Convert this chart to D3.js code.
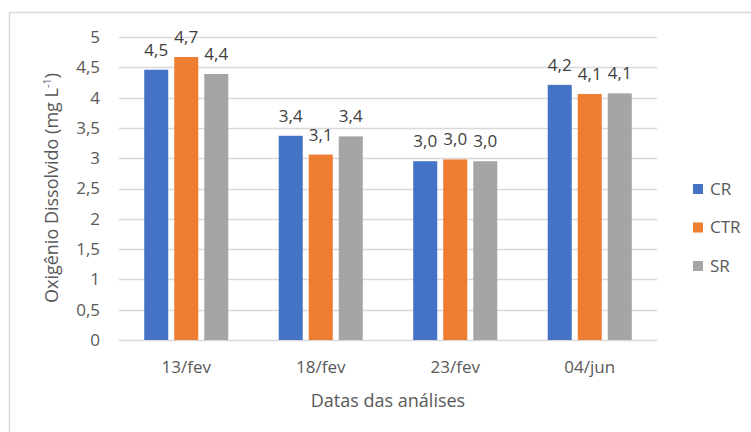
<!DOCTYPE html>
<html>
<head>
<meta charset="utf-8">
<script src="https://cdn.jsdelivr.net/npm/d3@7"></script>
<style>
  html, body { margin: 0; padding: 0; background: #fff; }
  svg { display: block; font-family: "Open Sans", "Noto Sans", sans-serif; }
</style>
</head>
<body>
<svg id="chart" width="751" height="432"></svg>
<script>
// Dissolved oxygen per analysis date and treatment
const dates = ["13/fev", "18/fev", "23/fev", "04/jun"];
const seriesNames = ["CR", "CTR", "SR"];
const crValues = [4.46, 3.37, 2.95, 4.21];
const ctrValues = [4.67, 3.06, 2.98, 4.06];
const srValues = [4.39, 3.36, 2.95, 4.07];
const yTicks = [0, 0.5, 1, 1.5, 2, 2.5, 3, 3.5, 4, 4.5, 5];
const colors = ["#4472C4", "#ED7D31", "#A5A5A5"];

const seriesValues = [crValues, ctrValues, srValues];
const rows = dates.map((d, i) => ({
  date: d,
  values: seriesNames.map((s, j) => ({ key: s, value: seriesValues[j][i], color: colors[j] }))
}));

const svg = d3.select("#chart");
const plot = { left: 119, right: 657, top: 37, bottom: 340 };

// outer frame
svg.append("rect")
  .attr("x", 9.5).attr("y", 12.5)
  .attr("width", 760).attr("height", 440)
  .attr("fill", "none").attr("stroke", "#d9d9d9").attr("stroke-width", 1.5);

const x0 = d3.scaleBand().domain(dates).range([plot.left, plot.right]).paddingInner(0.375).paddingOuter(0.1875);
const x1 = d3.scaleBand().domain(seriesNames).range([0, x0.bandwidth()]).paddingInner(0.2);
const y = d3.scaleLinear().domain([0, 5]).range([plot.bottom, plot.top]);

const fmt = v => d3.format(".1f")(v).replace(".", ",");

// gridlines
svg.append("g").selectAll("line").data(yTicks).join("line")
  .attr("x1", plot.left).attr("x2", plot.right)
  .attr("y1", d => Math.round(y(d)) + 0.5).attr("y2", d => Math.round(y(d)) + 0.5)
  .attr("stroke", "#d9d9d9").attr("stroke-width", 1.5);

// y axis labels
const yAxis = d3.axisLeft(y).tickValues(yTicks).tickSize(0).tickPadding(0)
  .tickFormat(d => String(d).replace(".", ","));
svg.append("g").attr("transform", `translate(${plot.left - 19},0)`).call(yAxis)
  .call(g => g.select(".domain").remove())
  .call(g => g.selectAll("text").attr("fill", "#595959").style("font-size", "17px")
    .style("font-family", "'Open Sans', sans-serif"));

// x axis labels
const xAxis = d3.axisBottom(x0).tickSize(0).tickPadding(0);
svg.append("g").attr("transform", `translate(0,${plot.bottom + 21})`).call(xAxis)
  .call(g => g.select(".domain").remove())
  .call(g => g.selectAll("text").attr("fill", "#595959").style("font-size", "17px")
    .style("font-family", "'Open Sans', sans-serif"));

// bars
const groups = svg.append("g").selectAll("g").data(rows).join("g")
  .attr("transform", d => `translate(${x0(d.date)},0)`);

groups.selectAll("rect").data(d => d.values).join("rect")
  .attr("x", d => x1(d.key))
  .attr("y", d => y(d.value))
  .attr("width", x1.bandwidth())
  .attr("height", d => y(0) - y(d.value))
  .attr("fill", d => d.color);

groups.selectAll("text").data(d => d.values).join("text")
  .attr("x", d => x1(d.key) + x1.bandwidth() / 2)
  .attr("y", d => y(d.value) - 14)
  .attr("text-anchor", "middle")
  .attr("fill", "#404040")
  .style("font-size", "17px")
  .text(d => fmt(d.value));

// axis titles
const yTitle = svg.append("text")
  .attr("transform", "translate(58,188) rotate(-90)")
  .attr("text-anchor", "middle")
  .attr("fill", "#595959")
  .style("font-size", "18px");
yTitle.append("tspan").text("Oxigênio Dissolvido (mg L");
yTitle.append("tspan").attr("dy", -7).style("font-size", "11px").text("-1");
yTitle.append("tspan").attr("dy", 7).text(")");

svg.append("text")
  .attr("x", 388).attr("y", 407)
  .attr("text-anchor", "middle")
  .attr("fill", "#595959")
  .style("font-size", "18px")
  .text("Datas das análises");

// legend
const legend = svg.append("g").selectAll("g").data(seriesNames).join("g")
  .attr("transform", (d, i) => `translate(693,${189 + i * 38.5})`);
legend.append("rect").attr("x", 0).attr("y", -5).attr("width", 10).attr("height", 10)
  .attr("fill", (d, i) => colors[i]);
legend.append("text").attr("x", 17).attr("y", 0).attr("dy", "0.35em")
  .attr("fill", "#595959").style("font-size", "17px").text(d => d);
</script>
</body>
</html>
